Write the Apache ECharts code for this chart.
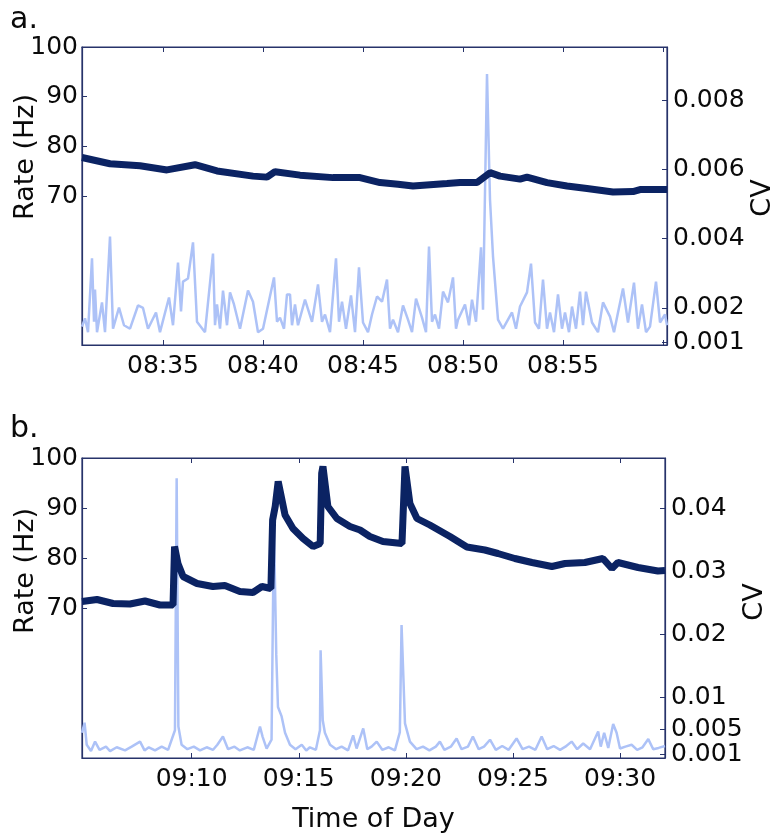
<!DOCTYPE html>
<html>
<head>
<meta charset="utf-8">
<script src="https://cdn.jsdelivr.net/npm/echarts@6/dist/echarts.min.js"></script>
<style>
html, body { margin: 0; padding: 0; background: #fff; }
#chart_box { width: 775px; height: 840px; }
</style>
</head>
<body>
<div id="chart_box"></div>
<script>
// time is in minutes after midnight (08:35 = 515)
// panel a: firing rate (Hz)
let aRate = [[510.95,77.75],[512.35,76.5],[513.85,76.1],[515.2,75.25],[516.6,76.3],[517.7,75.05],[519.5,74.0],[520.2,73.8],
    [520.6,74.9],[521.85,74.2],[523.5,73.7],[524.85,73.7],[525.85,72.7],[526.75,72.35],[527.5,72.0],[529.2,72.5],[529.85,72.7],
    [530.7,72.7],[531.35,74.7],[531.85,74.0],[532.85,73.4],[533.2,73.8],[534.2,72.7],[535.2,72.0],[536.2,71.5],[537.5,70.8],
    [538.5,70.9],[538.85,71.3],[540.2,71.3]];

// panel a: CV
let aCv = [[510.95,0.00146],[511.1,0.0017],[511.25,0.0013],[511.45,0.00343],[511.55,0.0016],[511.6,0.00253],[511.7,0.0013],
    [511.95,0.00216],[512.1,0.0013],[512.35,0.00406],[512.5,0.0014],[512.8,0.00201],[513.05,0.0015],[513.35,0.0014],
    [513.75,0.00207],[514.0,0.002],[514.25,0.0014],[514.65,0.00187],[514.85,0.0013],[515.3,0.0023],[515.5,0.0015],
    [515.75,0.00331],[515.9,0.0019],[516.0,0.00276],[516.25,0.00285],[516.5,0.00389],[516.7,0.0016],[517.1,0.0013],
    [517.5,0.00357],[517.6,0.0015],[517.7,0.0021],[517.85,0.0014],[518.0,0.0025],[518.2,0.0015],[518.35,0.00245],
    [518.55,0.0021],[518.85,0.0014],[519.25,0.0025],[519.5,0.00218],[519.75,0.0013],[520.0,0.0014],[520.55,0.00288],
    [520.7,0.0016],[520.85,0.00172],[521.05,0.0014],[521.2,0.00239],[521.35,0.00239],[521.45,0.0015],[521.6,0.0021],
    [521.75,0.0015],[522.1,0.00224],[522.2,0.00227],[522.45,0.0016],[522.75,0.00268],[522.95,0.0016],[523.1,0.00181],
    [523.35,0.0013],[523.65,0.00343],[523.8,0.0016],[523.95,0.00218],[524.15,0.0014],[524.4,0.00236],[524.6,0.0013],
    [524.8,0.00317],[525.0,0.00158],[525.25,0.0013],[525.45,0.00181],[525.7,0.00233],[525.95,0.00218],[526.2,0.00282],
    [526.35,0.0014],[526.5,0.00166],[526.75,0.0013],[527.0,0.00207],[527.25,0.00166],[527.45,0.0013],[527.65,0.00227],
    [527.95,0.00172],[528.15,0.0013],[528.3,0.00377],[528.45,0.0016],[528.6,0.00181],[528.8,0.0014],[529.0,0.00247],
    [529.25,0.00216],[529.5,0.00288],[529.65,0.0014],[529.75,0.00166],[530.1,0.0021],[530.3,0.0015],[530.45,0.00224],
    [530.65,0.0016],[530.9,0.00375],[531.0,0.00195],[531.2,0.00875],[531.35,0.00513],[531.5,0.00349],[531.75,0.00166],
    [532.0,0.0014],[532.45,0.00187],[532.65,0.0014],[532.85,0.00204],[533.2,0.00245],[533.4,0.00328],[533.6,0.00158],
    [533.8,0.0014],[534.0,0.00282],[534.2,0.0014],[534.35,0.00187],[534.55,0.0013],[534.75,0.00239],[534.95,0.0014],
    [535.1,0.00187],[535.3,0.0013],[535.45,0.00204],[535.65,0.0014],[535.85,0.00247],[536.0,0.0015],[536.15,0.00247],
    [536.45,0.00158],[536.75,0.0013],[537.0,0.00216],[537.35,0.00175],[537.55,0.0013],[537.75,0.00187],[538.0,0.00256],
    [538.25,0.00158],[538.55,0.00273],[538.75,0.0014],[538.95,0.0021],[539.15,0.0013],[539.35,0.00146],[539.65,0.00276],
    [539.85,0.00158],[540.1,0.00181],[540.2,0.0015]];

// panel b: firing rate (Hz)
let bRate = [[544.88,71.3],[545.58,71.7],[546.33,70.9],[547.12,70.8],[547.82,71.4],[548.52,70.6],[549.13,70.6],[549.2,82.3],
    [549.36,78.9],[549.6,76.3],[550.25,74.9],[550.99,74.3],[551.55,74.5],[552.25,73.3],[552.86,73.1],[553.28,74.3],
    [553.7,73.9],[553.78,87.6],[553.9,90.3],[554.04,95.3],[554.36,88.6],[554.73,85.9],[555.2,83.9],[555.67,82.3],
    [556.0,82.9],[556.07,96.9],[556.13,98.3],[556.36,90.3],[556.78,87.9],[557.39,86.3],[557.86,85.6],[558.32,84.3],
    [558.93,83.3],[559.82,82.9],[559.96,98.3],[560.19,90.9],[560.52,87.9],[561.12,86.6],[562.06,84.3],[562.85,82.2],
    [563.69,81.6],[564.3,80.9],[565.09,79.9],[565.89,79.1],[566.82,78.3],[567.43,78.9],[568.36,79.1],[569.2,79.9],
    [569.62,77.9],[569.9,79.1],[570.84,78.1],[571.77,77.4],[572.1,77.5]];

// panel b: CV
let bCv = [[544.88,0.0044],[545.0,0.006],[545.1,0.0025],[545.3,0.0015],[545.49,0.003],[545.7,0.0017],[546.0,0.0022],
    [546.19,0.0015],[546.5,0.0021],[546.89,0.0016],[547.2,0.0022],[547.59,0.003],[547.8,0.0016],[548.0,0.0021],
    [548.29,0.0016],[548.6,0.0022],[548.9,0.0017],[549.22,0.0048],[549.3,0.0448],[549.38,0.0054],[549.53,0.0025],
    [549.8,0.0018],[550.1,0.0022],[550.39,0.0016],[550.7,0.0021],[551.0,0.0017],[551.2,0.0025],[551.46,0.0038],
    [551.7,0.0018],[552.0,0.0022],[552.25,0.0016],[552.6,0.0021],[552.9,0.0017],[553.19,0.0054],[553.31,0.0038],
    [553.5,0.0019],[553.73,0.0033],[553.84,0.0377],[553.95,0.0168],[554.03,0.0085],[554.2,0.007],[554.36,0.0044],
    [554.59,0.0025],[554.85,0.0018],[555.14,0.0025],[555.35,0.0016],[555.52,0.0021],[555.8,0.0017],[555.99,0.0048],
    [556.02,0.0175],[556.12,0.0064],[556.22,0.0044],[556.46,0.0025],[556.75,0.0018],[557.0,0.0022],[557.3,0.0016],
    [557.54,0.004],[557.7,0.0019],[558.01,0.0051],[558.2,0.0018],[558.4,0.0022],[558.64,0.003],[558.9,0.0017],
    [559.2,0.0021],[559.49,0.0016],[559.72,0.0045],[559.8,0.0215],[559.96,0.0059],[560.19,0.003],[560.5,0.0018],
    [560.8,0.0022],[561.1,0.0016],[561.4,0.0022],[561.59,0.003],[561.8,0.0017],[562.1,0.0022],[562.37,0.0035],
    [562.6,0.0018],[562.9,0.0022],[563.13,0.0038],[563.4,0.0018],[563.65,0.0022],[563.93,0.0033],[564.2,0.0017],
    [564.5,0.0023],[564.8,0.0017],[565.17,0.0035],[565.45,0.0018],[565.75,0.0022],[566.05,0.0017],[566.34,0.0038],
    [566.6,0.0018],[566.9,0.0023],[567.2,0.0017],[567.45,0.0022],[567.74,0.003],[568.0,0.0018],[568.28,0.0027],
    [568.6,0.0018],[568.98,0.0046],[569.1,0.0022],[569.26,0.0044],[569.45,0.002],[569.68,0.0058],[569.84,0.0044],
    [570.0,0.0019],[570.25,0.0022],[570.54,0.0025],[570.8,0.0017],[571.05,0.0021],[571.32,0.0034],[571.55,0.0018],
    [571.8,0.002],[572.1,0.0023]];

// ticks
let aTimeTicks = [515, 520, 525, 530, 535, 540];
let aTimeLabels = [515, 520, 525, 530, 535];
let bTimeTicks = [550, 555, 560, 565, 570];
let rateTicks = [70, 80, 90, 100];
let aCvTicks = [0.001, 0.002, 0.004, 0.006, 0.008];
let bCvTicks = [0.001, 0.005, 0.01, 0.02, 0.03, 0.04];

let font = 'DejaVu Sans';
let ink = '#0a0a0a';
let frame = '#27336a';
let dark = '#0b2363';
let light = '#adc2f7';

function timeLabel(v) {
    let h = Math.floor(v / 60);
    let m = Math.round(v - h * 60);
    return (h < 10 ? '0' : '') + h + ':' + (m < 10 ? '0' : '') + m;
}

function xAxisFor(grid, min, max, ticks, labels, pos) {
    return {
        type: 'value', gridIndex: grid, min: min, max: max, position: pos,
        axisLine: {show: true, onZero: false, lineStyle: {color: frame, width: 1.2}},
        axisTick: {show: true, inside: true, length: 5, customValues: ticks, lineStyle: {color: frame}},
        axisLabel: {show: pos === 'bottom', customValues: labels, formatter: timeLabel, margin: 9,
            color: ink, fontSize: 25, fontFamily: font},
        splitLine: {show: false}
    };
}

function yAxisFor(grid, min, max, ticks, pos, margin) {
    return {
        type: 'value', gridIndex: grid, min: min, max: max, position: pos,
        axisLine: {show: true, onZero: false, lineStyle: {color: frame, width: 1.2}},
        axisTick: {show: true, inside: true, length: 5, customValues: ticks, lineStyle: {color: frame}},
        axisLabel: {customValues: ticks, formatter: function (v) { return String(v); }, margin: margin,
            color: ink, fontSize: 25, fontFamily: font},
        splitLine: {show: false}
    };
}

function vText(x, y, text) {
    return {
        type: 'text', x: x, y: y, rotation: Math.PI / 2,
        style: {text: text, fill: ink, font: '27px "DejaVu Sans"', textAlign: 'center', textVerticalAlign: 'middle'}
    };
}

let myChart = echarts.init(document.getElementById('chart_box'));

let xB = xAxisFor(1, 544.88, 572.1, bTimeTicks, bTimeTicks, 'bottom');
xB.name = 'Time of Day';
xB.nameLocation = 'middle';
xB.nameGap = 48;
xB.nameTextStyle = {color: ink, fontSize: 27, fontFamily: font};

let myOption = {
    animation: false,
    backgroundColor: '#fff',
    grid: [
        {left: 82, top: 47, width: 585, height: 298, show: true, borderColor: frame, borderWidth: 1.2, outerBoundsMode: 'none'},
        {left: 82, top: 458, width: 583, height: 300, show: true, borderColor: frame, borderWidth: 1.2, outerBoundsMode: 'none'}
    ],
    xAxis: [
        xAxisFor(0, 510.95, 540.2, aTimeTicks, aTimeLabels, 'bottom'),
        xAxisFor(0, 510.95, 540.2, aTimeTicks, aTimeLabels, 'top'),
        xB,
        xAxisFor(1, 544.88, 572.1, bTimeTicks, bTimeTicks, 'top')
    ],
    yAxis: [
        yAxisFor(0, 40, 100, rateTicks, 'left', 4),
        yAxisFor(0, 0.00093, 0.00953, aCvTicks, 'right', 6),
        yAxisFor(1, 40, 100, rateTicks, 'left', 4),
        yAxisFor(1, 0.0004, 0.048, bCvTicks, 'right', 6)
    ],
    graphic: [
        {type: 'text', x: 10, y: 35, style: {text: 'a.', fill: ink, font: '30px "DejaVu Sans"', textVerticalAlign: 'bottom'}},
        {type: 'text', x: 10, y: 444, style: {text: 'b.', fill: ink, font: '30px "DejaVu Sans"', textVerticalAlign: 'bottom'}},
        vText(26, 157, 'Rate (Hz)'),
        vText(26, 571, 'Rate (Hz)'),
        vText(763, 198, 'CV'),
        vText(755, 602, 'CV')
    ],
    series: [
        {name: 'CV a', type: 'line', xAxisIndex: 0, yAxisIndex: 1, data: aCv, showSymbol: false,
            lineStyle: {color: light, width: 2.5}, z: 2},
        {name: 'Rate a', type: 'line', xAxisIndex: 0, yAxisIndex: 0, data: aRate, showSymbol: false,
            lineStyle: {color: dark, width: 7}, z: 3},
        {name: 'CV b', type: 'line', xAxisIndex: 2, yAxisIndex: 3, data: bCv, showSymbol: false,
            lineStyle: {color: light, width: 2.5}, z: 2},
        {name: 'Rate b', type: 'line', xAxisIndex: 2, yAxisIndex: 2, data: bRate, showSymbol: false,
            lineStyle: {color: dark, width: 7}, z: 3}
    ]
};

myChart.setOption(myOption);
</script>
</body>
</html>
